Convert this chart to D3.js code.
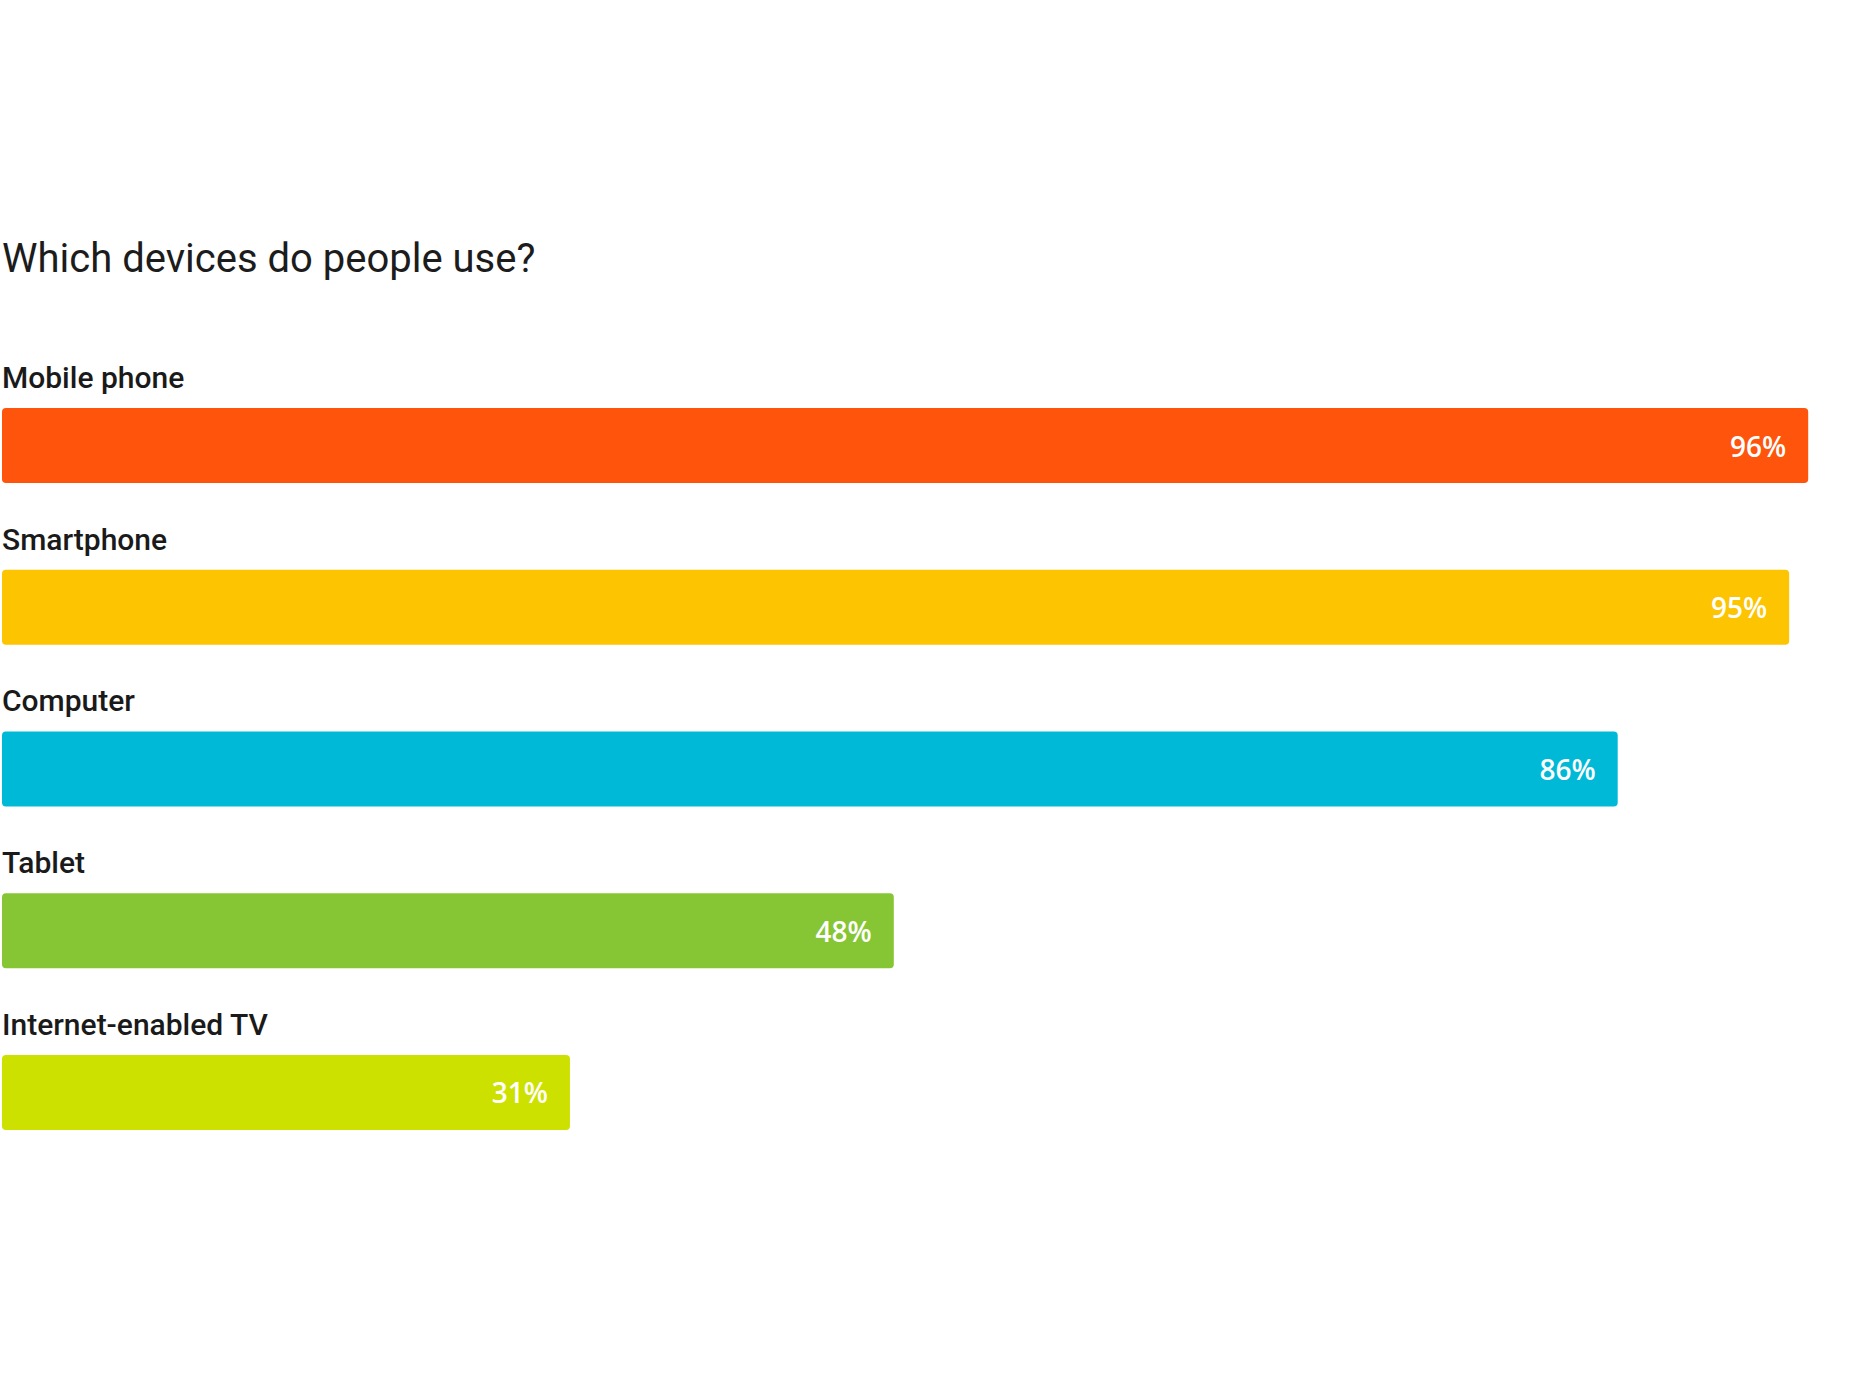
<!DOCTYPE html>
<html>
<head>
<meta charset="utf-8">
<script src="https://cdn.jsdelivr.net/npm/d3@7"></script>
<style>
  html, body { margin: 0; padding: 0; background: #fff; }
  svg { display: block; }
</style>
</head>
<body>
<svg id="chart" width="1850" height="1376"></svg>
<script>
const title = "Which devices do people use?";
const categories = ["Mobile phone", "Smartphone", "Computer", "Tablet", "Internet-enabled TV"];
const values = [96, 95, 86, 48, 31];
const valueLabels = ["96%", "95%", "86%", "48%", "31%"];
const colors = ["#FE540B", "#FCC401", "#00B9D7", "#86C634", "#CDE100"];

const svg = d3.select("#chart");

svg.append("text")
  .attr("x", 2)
  .attr("y", 272)
  .attr("font-family", "Roboto, sans-serif")
  .attr("font-size", 40)
  .attr("fill", "#1c1c1c")
  .text(title);

const x = d3.scaleLinear().domain([0, 100]).range([-20.6, 1884.4]);
const y = d3.scaleBand().domain(categories).range([408, 1130]).paddingInner(0.5363).paddingOuter(0);

const rows = svg.append("g").selectAll("g")
  .data(categories.map((c, i) => ({ c, v: values[i], lab: valueLabels[i], col: colors[i] })))
  .join("g");

rows.append("rect")
  .attr("x", 2)
  .attr("y", d => y(d.c))
  .attr("width", d => x(d.v) - 2)
  .attr("height", y.bandwidth())
  .attr("rx", 4)
  .attr("fill", d => d.col);

rows.append("text")
  .attr("x", 2)
  .attr("y", d => y(d.c) - 20)
  .attr("font-family", "Roboto, sans-serif")
  .attr("font-weight", 500)
  .attr("font-size", 30)
  .attr("fill", "#1a1a1a")
  .text(d => d.c);

rows.append("text")
  .attr("x", d => x(d.v) - 22)
  .attr("y", d => y(d.c) + y.bandwidth() / 2 + 11)
  .attr("text-anchor", "end")
  .attr("font-family", "'Open Sans', sans-serif")
  .attr("font-weight", 600)
  .attr("font-size", 28)
  .attr("fill", "#ffffff")
  .text(d => d.lab);
</script>
</body>
</html>
